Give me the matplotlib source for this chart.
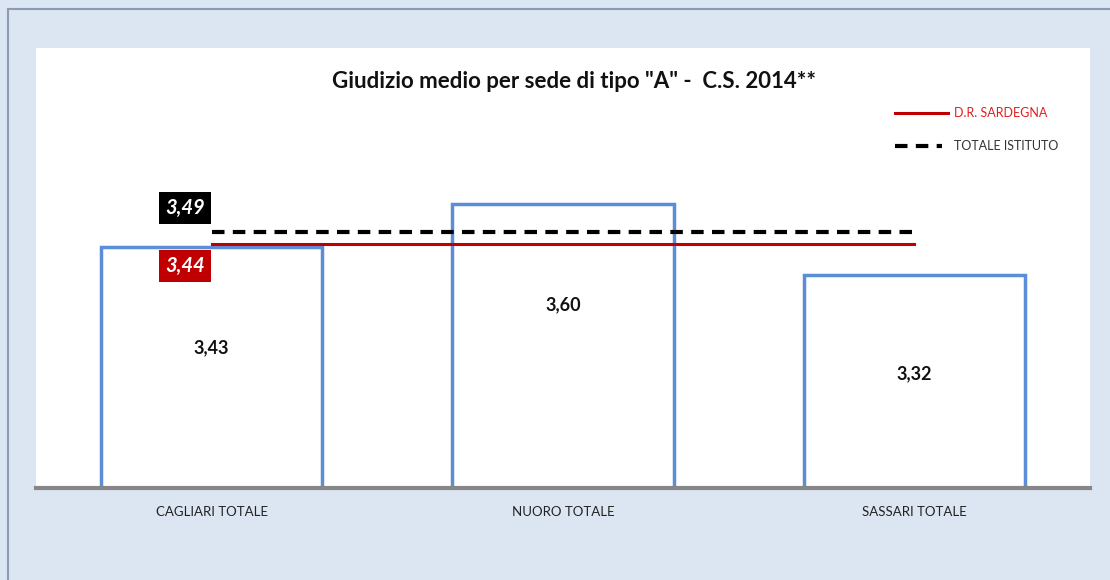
import matplotlib.pyplot as plt
from matplotlib.patches import Rectangle

plt.rcParams['font.family'] = ['Lato', 'DejaVu Sans']

# dati
sedi = ['CAGLIARI TOTALE', 'NUORO TOTALE', 'SASSARI TOTALE']
giudizio = [3.43, 3.60, 3.32]
dr_sardegna = 3.44
totale_istituto = 3.49

# posizione verticale delle etichette dentro le barre
pos_etichette = [3.03, 3.20, 2.93]

fig = plt.figure(figsize=(11.1, 5.8), dpi=100)
fig.patch.set_facecolor('#dce6f2')
fig.patches.append(Rectangle((8 / 1110, -0.1), 1.2, 1 - 9 / 580 + 0.1,
                             transform=fig.transFigure, fill=False,
                             edgecolor='#8a9bb3', linewidth=1.5))

ax = fig.add_axes([36 / 1110, 92 / 580, 1054 / 1110, 440 / 580])
ax.set_facecolor('white')

x = range(len(sedi))
ax.bar(x, giudizio, width=0.63, bottom=0, color='white',
       edgecolor='#5a8fd8', linewidth=2.5, zorder=2)
ax.set_xlim(-0.5, 2.5)
ax.set_ylim(2.477, 4.216)

for i, v in enumerate(giudizio):
    ax.text(i, pos_etichette[i], f'{v:.2f}'.replace('.', ','), ha='center',
            va='center', fontsize=13, fontweight='bold', color='#111111', zorder=4)

# linee di riferimento dal primo all'ultimo gruppo
ax.plot([0, 2], [dr_sardegna] * 2, color='#c00000', linewidth=2.2, zorder=3)
ax.plot([0, 2], [totale_istituto] * 2, color='black', linewidth=3,
        dashes=(3, 2), zorder=3)

box = dict(boxstyle='square,pad=0.3', edgecolor='none')
ax.text(-0.02, totale_istituto + 0.095, f'{totale_istituto:.2f}'.replace('.', ','),
        ha='right', va='center', fontsize=14.5, fontweight='bold', style='italic',
        color='white', zorder=5, bbox=dict(box, facecolor='black'))
ax.text(-0.02, dr_sardegna - 0.085, f'{dr_sardegna:.2f}'.replace('.', ','),
        ha='right', va='center', fontsize=14.5, fontweight='bold', style='italic',
        color='white', zorder=5, bbox=dict(box, facecolor='#c00000'))

ax.set_title('Giudizio medio per sede di tipo "A" -  C.S. 2014**', fontsize=16,
             fontweight='bold', y=0.89, x=0.51, color='#111111')

# legenda
ax.plot([0.815, 0.865], [0.853, 0.853], transform=ax.transAxes,
        color='#c00000', linewidth=2.2, clip_on=False)
ax.text(0.871, 0.853, 'D.R. SARDEGNA', transform=ax.transAxes, fontsize=9,
        color='#e02020', va='center')
ax.plot([0.815, 0.860], [0.778, 0.778], transform=ax.transAxes,
        color='black', linewidth=3, dashes=(3, 2), clip_on=False)
ax.text(0.871, 0.778, 'TOTALE ISTITUTO', transform=ax.transAxes, fontsize=9,
        color='#333333', va='center')

for s in ['top', 'right', 'left']:
    ax.spines[s].set_visible(False)
ax.spines['bottom'].set_color('#868686')
ax.spines['bottom'].set_linewidth(3)
ax.spines['bottom'].set_zorder(6)
ax.set_yticks([])
ax.set_xticks(list(x))
ax.set_xticklabels(sedi, fontsize=9.5, color='#222222')
ax.tick_params(axis='x', length=0, pad=13)

fig.savefig('out.png', dpi=100, facecolor=fig.get_facecolor())
